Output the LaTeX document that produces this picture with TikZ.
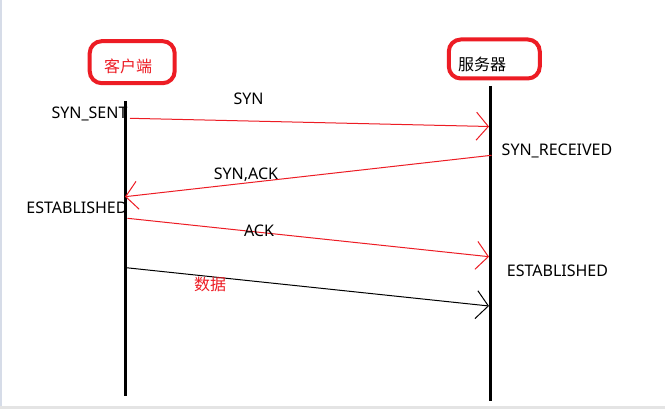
\documentclass[tikz,border=0pt]{standalone}
\usepackage{fontspec}
\setmainfont{Noto Sans}
\newfontfamily\cjk{Noto Sans CJK SC}
\usetikzlibrary{arrows.meta}
\definecolor{pred}{RGB}{237,28,36}
\definecolor{edgegray}{RGB}{228,228,228}
\definecolor{edgeblue}{RGB}{214,220,232}
\begin{document}
\begin{tikzpicture}[x=0.75pt,y=-0.75pt,
  box/.style={draw=pred,line width=3pt,rounded corners=9pt,inner sep=0},
  life/.style={line width=2.25pt,black},
  msg/.style={line width=0.75pt,-{Straight Barb[length=9pt,width=21pt,line width=0.75pt]}},
  lbl/.style={font=\fontsize{12}{14}\selectfont,inner sep=0,anchor=base},
  clbl/.style={font=\fontsize{12}{14}\selectfont\cjk,inner sep=0}]
\useasboundingbox (0,0) rectangle (665,409);
\fill[white] (0,0) rectangle (665,409);
\fill[edgeblue] (0,0) rectangle (2,409);
\fill[edgegray] (0,406) rectangle (665,409);
% boxes
\node[box,minimum width=63.75pt,minimum height=31.5pt] (cbox) at (132.2,62.2) {};
\node[clbl,text=pred] (ctxt) at (128,66.5) {客户端};
\node[box,minimum width=68.25pt,minimum height=29.25pt] (sbox) at (494.3,59) {};
\node[clbl] (stxt) at (482,64.5) {服务器};
% lifelines
\coordinate (ctop) at (125,101);
\coordinate (cbot) at (125,396);
\coordinate (stop) at (490,86);
\coordinate (sbot) at (490,401);
\draw[life] (ctop) -- (cbot);
\draw[life] (stop) -- (sbot);
% messages
\coordinate (syn1) at (130,118.3);
\coordinate (syn2) at (489,126.5);
\coordinate (sa1) at (491.5,155.3);
\coordinate (sa2) at (125,196.7);
\coordinate (ack1) at (127.5,218.3);
\coordinate (ack2) at (489,256.7);
\coordinate (d1) at (126,267.7);
\coordinate (d2) at (489,306);
\draw[msg,pred] (syn1) -- (syn2);
\draw[msg,pred] (sa1) -- (sa2);
\draw[msg,pred] (ack1) -- (ack2);
\draw[msg,black] (d1) -- (d2);
% labels
\node[lbl] (lsyn) at (248.5,105) {SYN};
\node[lbl] (lsent) at (89.5,119) {SYN\_SENT};
\node[lbl] (lrecv) at (557,156) {SYN\_RECEIVED};
\node[lbl] (lsa) at (246,180) {SYN,ACK};
\node[lbl] (lestc) at (77,214) {ESTABLISHED};
\node[lbl] (lack) at (259,237) {ACK};
\node[lbl] (less) at (557.5,277) {ESTABLISHED};
\node[clbl,text=pred] (ldata) at (210,284.5) {数据};
\end{tikzpicture}
\end{document}
